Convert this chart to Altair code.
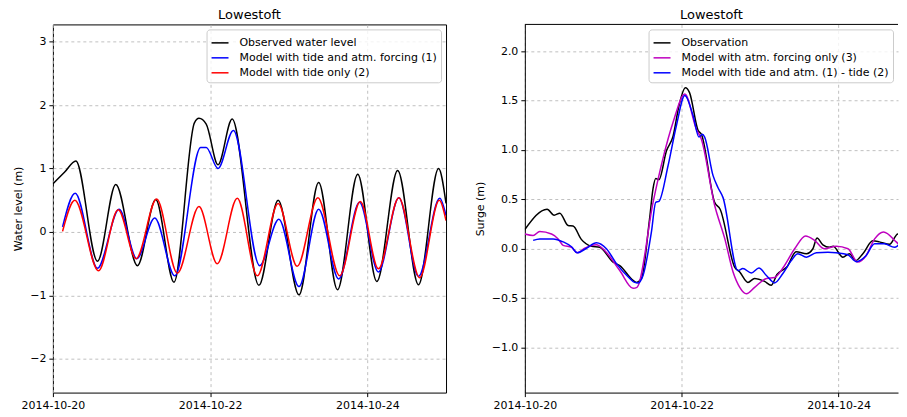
import altair as alt
import pandas as pd

# ---------------- Left panel: water level ----------------
obs_wl_t = [0.0, 0.15, 0.292, 0.567, 0.80, 1.075, 1.308, 1.54, 1.80, 1.858, 1.95, 2.10, 2.28, 2.62,
            2.865, 3.13, 3.38, 3.62, 3.877, 4.12, 4.385, 4.65, 4.905, 5.0]
obs_wl_v = [0.76, 0.945, 1.12, -0.46, 0.75, -0.53, 0.51, -0.79, 1.72, 1.79, 1.70, 1.06, 1.78, -0.84,
            0.50, -0.99, 0.78, -0.91, 0.91, -0.78, 0.97, -0.83, 1.00, 0.45]

tide_atm_t = [0.123, 0.283, 0.567, 0.842, 1.067, 1.295, 1.55, 1.88, 1.95, 2.10, 2.295, 2.63,
              2.874, 3.13, 3.38, 3.635, 3.90, 4.14, 4.40, 4.65, 4.92, 5.0]
tide_atm_v = [0.08, 0.61, -0.57, 0.36, -0.42, 0.22, -0.69, 1.33, 1.33, 1.00, 1.60, -0.53,
              0.20, -0.86, 0.36, -0.74, 0.47, -0.63, 0.54, -0.70, 0.53, 0.26]

tide_t = [0.123, 0.279, 0.58, 0.83, 1.058, 1.32, 1.583, 1.858, 2.09, 2.345, 2.60, 2.865,
          3.107, 3.37, 3.648, 3.91, 4.14, 4.40, 4.665, 4.914, 5.0]
tide_v = [0.01, 0.50, -0.61, 0.35, -0.42, 0.52, -0.65, 0.40, -0.50, 0.53, -0.69, 0.45,
          -0.54, 0.54, -0.69, 0.48, -0.58, 0.54, -0.72, 0.50, 0.18]

left_names = ["Observed water level", "Model with tide and atm. forcing (1)", "Model with tide only (2)"]
left_colors = ["#000000", "#0000ff", "#ff0000"]

# ---------------- Right panel: surge ----------------
obs_s_t = [0.0, 0.284, 0.374, 0.446, 0.552, 0.615, 0.72, 0.85, 0.955, 1.125, 1.21, 1.38, 1.42, 1.487,
           1.59, 1.635, 1.669, 1.71, 1.805, 1.89, 1.966, 2.047, 2.10, 2.21, 2.25, 2.42, 2.49, 2.675,
           2.74, 2.845, 2.93, 3.057, 3.14, 3.215, 3.34, 3.46, 3.59, 3.673, 3.725, 3.80, 3.885, 3.93,
           4.055, 4.14, 4.217, 4.31, 4.437, 4.52, 4.65, 4.756, 4.86, 5.0]
obs_s_v = [0.195, 0.40, 0.34, 0.36, 0.235, 0.23, 0.095, 0.025, 0.015, -0.135, -0.17, -0.32, -0.34, -0.30,
           0.30, 0.61, 0.71, 0.70, 0.99, 1.14, 1.45, 1.63, 1.58, 1.195, 1.16, 0.47, 0.40, -0.185,
           -0.235, -0.34, -0.30, -0.33, -0.37, -0.26, -0.185, -0.03, -0.05, 0.0, 0.11, 0.04, 0.015, 0.025,
           -0.085, -0.05, -0.12, -0.05, 0.08, 0.07, 0.045, 0.15, 0.11, 0.11]

atm_t = [0.0, 0.106, 0.19, 0.34, 0.425, 0.488, 0.595, 0.667, 0.764, 0.913, 1.02, 1.21, 1.38, 1.43,
         1.635, 1.76, 1.89, 2.04, 2.187, 2.25, 2.42, 2.55, 2.655, 2.74, 2.825, 2.93, 3.08, 3.185,
         3.29, 3.44, 3.58, 3.694, 3.82, 3.97, 4.12, 4.245, 4.35, 4.46, 4.573, 4.735, 4.86, 4.95]
atm_v = [0.15, 0.135, 0.175, 0.15, 0.10, 0.035, 0.015, -0.04, 0.005, 0.04, -0.02, -0.22, -0.40, -0.39,
         0.47, 0.91, 1.28, 1.565, 1.21, 1.11, 0.44, 0.10, -0.235, -0.39, -0.455, -0.39, -0.30, -0.29,
         -0.195, 0.0, 0.13, 0.085, 0.0, 0.025, 0.0, -0.135, -0.07, 0.10, 0.17, 0.07, -0.035, -0.09]

diff_t = [0.106, 0.19, 0.36, 0.488, 0.595, 0.667, 0.786, 0.913, 1.04, 1.168, 1.338, 1.40, 1.444, 1.507,
          1.614, 1.669, 1.71, 1.826, 1.932, 2.04, 2.144, 2.22, 2.264, 2.293, 2.40, 2.462, 2.526, 2.717,
          2.78, 2.888, 2.985, 3.08, 3.185, 3.29, 3.397, 3.48, 3.59, 3.717, 3.865, 3.97, 4.12, 4.225,
          4.35, 4.46, 4.586, 4.713, 4.80, 4.86, 5.0]
diff_v = [0.085, 0.10, 0.10, 0.07, 0.02, -0.04, 0.005, 0.06, 0.0, -0.15, -0.30, -0.34, -0.345, -0.27,
          0.17, 0.47, 0.48, 0.84, 1.245, 1.55, 1.35, 1.13, 1.16, 1.13, 0.74, 0.62, 0.52, -0.22,
          -0.20, -0.245, -0.195, -0.27, -0.345, -0.25, -0.12, -0.05, -0.085, -0.04, -0.035, -0.04, -0.06, -0.13,
          -0.07, 0.05, 0.05, 0.015, 0.05, 0.035, 0.03]

right_names = ["Observation", "Model with atm. forcing only (3)", "Model with tide and atm. (1) - tide (2)"]
right_colors = ["#000000", "#bf00bf", "#0000ff"]

FONT = "DejaVu Sans"
H = 369
W_LEFT = 394
W_RIGHT = 374          # right panel is cut by the window edge in the reference
RIGHT_XMAX = 4.758     # keeps the same px/day as the left panel


def panel(series, names, colors, ydomain, yvalues, yfmt, ytitle, width, xmax, boxed):
    legend = alt.Legend(
        title=None, orient="top-right", offset=5,
        symbolType="stroke", symbolSize=289, symbolStrokeWidth=1.5,
        labelFont=FONT, labelFontSize=11, labelColor="black", labelOffset=10, labelLimit=400,
        fillColor="rgba(255,255,255,0.8)", strokeColor="#cccccc", cornerRadius=3,
        padding=4, rowPadding=0,
    )
    color = alt.Color("s:N", scale=alt.Scale(domain=names, range=colors), legend=legend)
    x_enc = alt.X(
        "t:Q",
        scale=alt.Scale(domain=[0, xmax], nice=False, zero=False),
        axis=alt.Axis(values=[0, 2, 4], title=None, labelFlush=False,
                      domain=not boxed, domainColor="black",
                      labelExpr="'2014-10-' + (20 + datum.value)"),
    )
    y_enc = alt.Y(
        "v:Q",
        scale=alt.Scale(domain=ydomain, nice=False, zero=False),
        axis=alt.Axis(values=yvalues, format=yfmt, title=ytitle, labelFlush=False,
                      domain=not boxed, domainColor="black"),
    )
    layers = []
    for (tt, vv), name in zip(series, names):
        df = pd.DataFrame({"t": tt, "v": vv, "s": name})
        layers.append(
            alt.Chart(df).mark_line(strokeWidth=1.5, interpolate="monotone", clip=True)
            .encode(x=x_enc, y=y_enc, color=color)
        )
    if not boxed:
        top = alt.Chart(pd.DataFrame({"k": [0]})).mark_rule(color="black", strokeWidth=1).encode(
            x=alt.value(0), x2=alt.value(width), y=alt.value(0)
        )
        layers.append(top)
    ch = alt.layer(*layers).properties(width=width, height=H, title="Lowestoft")
    if boxed:
        ch = ch.properties(view=alt.ViewBackground(stroke="black", strokeWidth=1))
    else:
        ch = ch.properties(view=alt.ViewBackground(stroke="transparent"))
    return ch


left = panel([(obs_wl_t, obs_wl_v), (tide_atm_t, tide_atm_v), (tide_t, tide_v)],
             left_names, left_colors, [-2.53, 3.27], [-2, -1, 0, 1, 2, 3], "d", "Water level (m)",
             W_LEFT, 5, True)
right = panel([(obs_s_t, obs_s_v), (atm_t, atm_v), (diff_t, diff_v)],
              right_names, right_colors, [-1.455, 2.27], [-1.0, -0.5, 0.0, 0.5, 1.0, 1.5, 2.0], ".1f",
              "Surge (m)", W_RIGHT, RIGHT_XMAX, False)

chart = (
    alt.hconcat(left, right, spacing=26)
    .resolve_scale(color="independent")
    .resolve_legend(color="independent")
    .properties(padding={"left": 4, "top": 0, "right": 0, "bottom": 0})
    .configure_axis(
        labelFont=FONT, labelFontSize=11, labelColor="black",
        titleFont=FONT, titleFontSize=11, titleFontWeight="normal", titleColor="black",
        titlePadding=6, labelPadding=3,
        tickColor="black", tickSize=4, tickWidth=1,
        grid=True, gridColor="#b0b0b0", gridDash=[3, 3], gridWidth=0.8,
    )
    .configure_title(font=FONT, fontSize=13, fontWeight="normal", color="black",
                     anchor="middle", frame="group", offset=2)
)

chart.save("out.html", embed_options={"renderer": "svg", "actions": False})
